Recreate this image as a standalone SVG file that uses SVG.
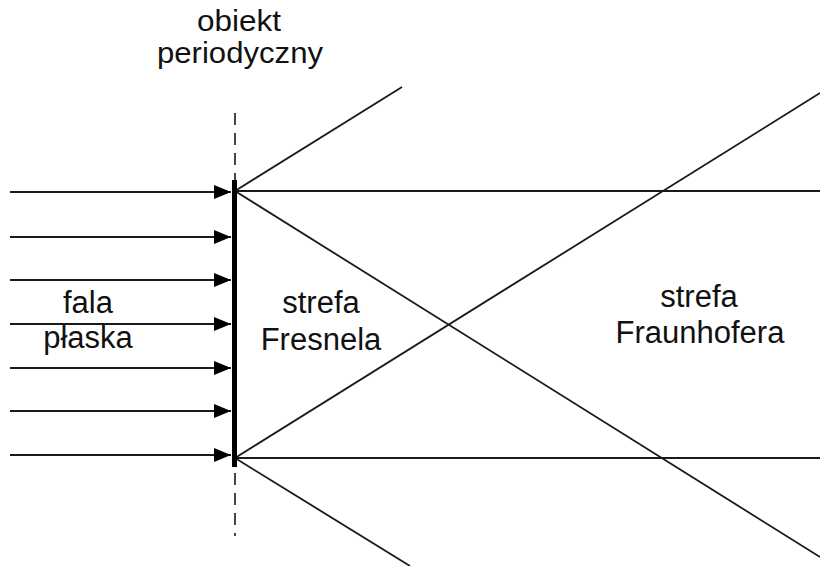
<svg xmlns="http://www.w3.org/2000/svg" width="820" height="566" viewBox="0 0 820 566">
<style>
.t{font-family:"Liberation Sans",Arial,sans-serif;font-size:31px;fill:#111;text-anchor:middle}
.s{font-size:29px}
.ln{stroke:#1a1a1a;stroke-width:1.8;fill:none}
.ar{stroke:#1a1a1a;stroke-width:1.8;fill:none;marker-end:url(#ah)}
</style>
<defs>
<marker id="ah" markerUnits="userSpaceOnUse" markerWidth="18" markerHeight="14" refX="17" refY="7" orient="auto">
<path d="M0,0 L17,7 L0,14 Z" fill="#000"/>
</marker>
</defs>
<rect width="820" height="566" fill="#fff"/>
<g id="connectors">
<line class="ar" x1="10" y1="192" x2="231" y2="192"/>
<line class="ar" x1="10" y1="237" x2="231" y2="237"/>
<line class="ar" x1="10" y1="280" x2="231" y2="280"/>
<line class="ar" x1="10" y1="324" x2="231" y2="324"/>
<line class="ar" x1="10" y1="368" x2="231" y2="368"/>
<line class="ar" x1="10" y1="411" x2="231" y2="411"/>
<line class="ar" x1="10" y1="455" x2="231" y2="455"/>
<line class="ln" x1="235" y1="191" x2="402" y2="87"/>
<line class="ln" x1="235" y1="191" x2="820" y2="191"/>
<line class="ln" x1="235" y1="191" x2="820" y2="557"/>
<line class="ln" x1="235" y1="458" x2="820" y2="93"/>
<line class="ln" x1="235" y1="458" x2="820" y2="458"/>
<line class="ln" x1="235" y1="458" x2="410" y2="566"/>
</g>
<g id="object">
<line x1="235" y1="113" x2="235" y2="536" stroke="#1a1a1a" stroke-width="1.6" stroke-dasharray="12,8"/>
<rect x="232" y="180" width="5" height="287" fill="#000"/>
<text class="t s" x="239" y="31" textLength="84" lengthAdjust="spacingAndGlyphs">obiekt</text>
<text class="t s" x="240" y="63" textLength="166" lengthAdjust="spacingAndGlyphs">periodyczny</text>
</g>
<g id="wave">
<text class="t" x="88" y="313">fala</text>
<text class="t" x="88" y="348">płaska</text>
</g>
<g id="fresnel">
<text class="t" x="321" y="313">strefa</text>
<text class="t" x="321" y="350">Fresnela</text>
</g>
<g id="fraunhofer">
<text class="t" x="699" y="307">strefa</text>
<text class="t" x="700" y="343">Fraunhofera</text>
</g>
</svg>
